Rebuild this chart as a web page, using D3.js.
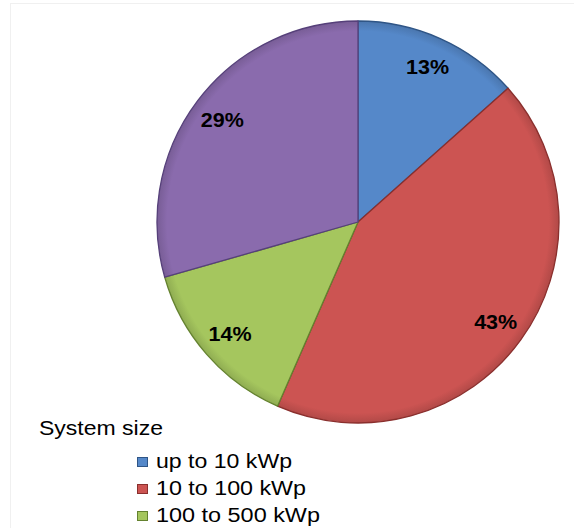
<!DOCTYPE html>
<html>
<head>
<meta charset="utf-8">
<script src="https://cdn.jsdelivr.net/npm/d3@7"></script>
<style>
  html, body { margin: 0; padding: 0; background: #fff; }
  svg { display: block; }
</style>
</head>
<body>
<div id="chart"></div>
<script>
// shares by system size (percent)
const categories = ['up to 10 kWp', '10 to 100 kWp', '100 to 500 kWp', 'over 500 kWp'];
const shares = [13.4, 43.1, 14.0, 29.4];
const fills = ['#5588c9', '#cc5452', '#a5c65e', '#8a6bad'];
const edges = ['#2f5586', '#8a2f2d', '#64822f', '#56407a'];
const legendTitle = 'System size';

const width = 574, height = 528;
const cx = 358, cy = 222, radius = 201;
const font = 'Liberation Sans, Arial, sans-serif';

const svg = d3.select('#chart').append('svg')
    .attr('width', width).attr('height', height);

// faint frame of the original plot area
svg.append('rect')
    .attr('x', 10.5).attr('y', 3.5)
    .attr('width', width).attr('height', height)
    .attr('fill', 'none').attr('stroke', '#f0f0f0');

const data = categories.map((c, i) => ({ name: c, value: shares[i], i: i }));

const pie = d3.pie().value(d => d.value).sort(null);
const arc = d3.arc().innerRadius(0).outerRadius(radius);
const labelArc = d3.arc().innerRadius(170).outerRadius(170);

// slight darkening toward the rim, like the original bevel
const defs = svg.append('defs');
data.forEach(d => {
    const gr = defs.append('radialGradient')
        .attr('id', 'g' + d.i)
        .attr('gradientUnits', 'userSpaceOnUse')
        .attr('cx', 0).attr('cy', 0).attr('r', radius);
    gr.append('stop').attr('offset', '0%').attr('stop-color', fills[d.i]);
    gr.append('stop').attr('offset', '95%').attr('stop-color', fills[d.i]);
    gr.append('stop').attr('offset', '100%').attr('stop-color', d3.color(fills[d.i]).darker(0.4));
});

const g = svg.append('g').attr('transform', `translate(${cx},${cy})`);
const arcs = pie(data);

g.selectAll('path.slice')
    .data(arcs)
    .join('path')
    .attr('class', 'slice')
    .attr('d', arc)
    .attr('fill', d => `url(#g${d.data.i})`)
    .attr('stroke', d => edges[d.data.i])
    .attr('stroke-width', 1.3)
    .attr('stroke-linejoin', 'round');

g.selectAll('text.pct')
    .data(arcs)
    .join('text')
    .attr('class', 'pct')
    .attr('transform', d => `translate(${labelArc.centroid(d)})`)
    .attr('text-anchor', 'middle')
    .attr('dy', '0.36em')
    .attr('font-family', font)
    .attr('font-weight', 'bold')
    .attr('font-size', 21)
    .attr('textLength', 43)
    .attr('lengthAdjust', 'spacingAndGlyphs')
    .attr('fill', '#000')
    .text(d => Math.round(d.data.value) + '%');

// legend
svg.append('text')
    .attr('x', 39).attr('y', 435)
    .attr('font-family', font)
    .attr('font-size', 20)
    .attr('textLength', 124)
    .attr('lengthAdjust', 'spacingAndGlyphs')
    .attr('fill', '#000')
    .text(legendTitle);

const itemWidths = [136, 150, 164, 150];

const item = svg.selectAll('g.item')
    .data(data)
    .join('g')
    .attr('class', 'item')
    .attr('transform', (d, i) => `translate(137,${468 + i * 27})`);

item.append('rect')
    .attr('x', 0.5).attr('y', -10.5)
    .attr('width', 10).attr('height', 9)
    .attr('fill', d => fills[d.i])
    .attr('stroke', d => edges[d.i])
    .attr('stroke-width', 1);

item.append('text')
    .attr('x', 19).attr('y', 0)
    .attr('font-family', font)
    .attr('font-size', 20)
    .attr('textLength', (d, i) => itemWidths[i])
    .attr('lengthAdjust', 'spacingAndGlyphs')
    .attr('fill', '#000')
    .text(d => d.name);
</script>
</body>
</html>
